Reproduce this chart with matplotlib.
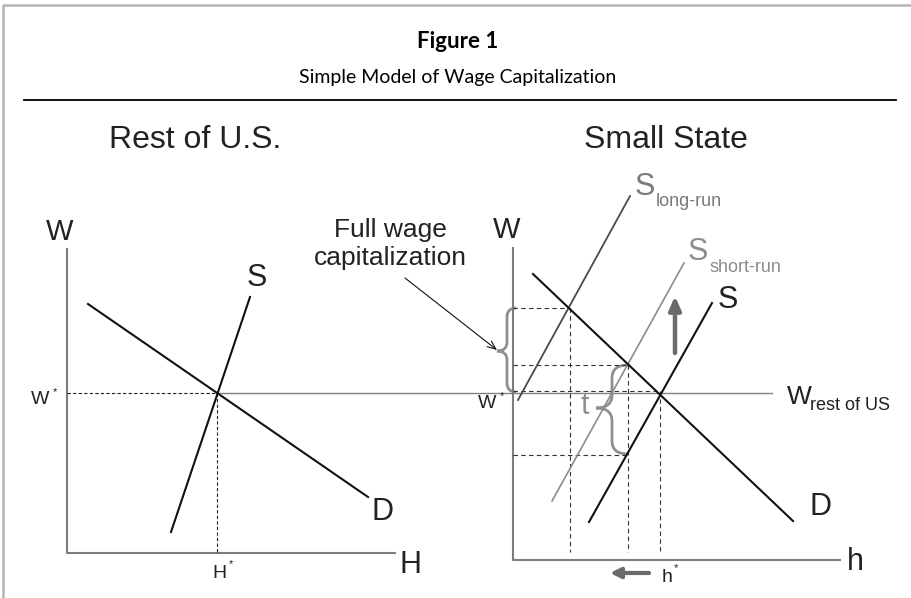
import numpy as np
import matplotlib.pyplot as plt
from matplotlib.path import Path
from matplotlib.patches import PathPatch

# everything is laid out in pixel units of the 911x598 picture (y down)
W_PX, H_PX = 911, 598

# ---- left panel: Rest of U.S.
left_axis_x = [67, 67, 395]
left_axis_y = [249, 553, 553]
left_S_x, left_S_y = [171, 250], [532, 297]
left_D_x, left_D_y = [88, 368], [304, 497]
left_eq = (217, 393)

# ---- right panel: Small State
right_axis_x = [513, 513, 840]
right_axis_y = [248, 560, 560]
right_D_x, right_D_y = [533, 793], [274, 521]
right_S_x, right_S_y = [589, 712], [522, 303]
short_S_x, short_S_y = [552, 684], [501, 263]
long_S_x, long_S_y = [518, 630], [400, 196]
w_rest_x, w_rest_y = [217, 772], 393

# equilibrium points (x, y)
eq_long = (570, 308)
eq_short = (628, 365)
eq_base = (660, 391)
eq_supply = (628, 455)
guide_bottom = 552

fig = plt.figure(figsize=(9.11, 5.98), dpi=100)
ax = fig.add_axes([0, 0, 1, 1])
ax.set_xlim(0, W_PX)
ax.set_ylim(H_PX, 0)
ax.axis('off')

# frame and header
ax.plot([3, 3, 911], [598, 5, 5], color='#b5b5b5', lw=1.8, solid_capstyle='butt')
ax.plot([24, 896], [100, 100], color='black', lw=1.3)
ax.text(458, 42, "Figure 1", ha='center', va='center', fontsize=16,
        fontweight='bold', family='Lato')
ax.text(458, 78, "Simple Model of Wage Capitalization", ha='center', va='center',
        fontsize=14, family='Lato')

lab = dict(family='Liberation Sans', color='#222222')
ax.text(195, 140, "Rest of U.S.", ha='center', va='center', fontsize=23, **lab)
ax.text(666, 140, "Small State", ha='center', va='center', fontsize=23, **lab)

axis_col = '#7d7d7d'
dash_kw = dict(color='#333333', lw=0.8, ls=(0, (4, 3)))

# ---- left panel
ax.plot(left_axis_x, left_axis_y, color=axis_col, lw=1.5)
ax.plot(w_rest_x, [w_rest_y, w_rest_y], color='#808080', lw=1.0)
ax.plot([left_axis_x[0], left_eq[0]], [left_eq[1], left_eq[1]], color='#222222', lw=0.8,
        ls=(0, (3, 2)))
ax.plot([left_eq[0], left_eq[0]], [left_eq[1], left_axis_y[1]], color='#222222', lw=0.8,
        ls=(0, (3, 2)))
ax.plot(left_S_x, left_S_y, color='#111111', lw=1.5)
ax.plot(left_D_x, left_D_y, color='#111111', lw=1.5)

ax.text(60, 232, "W", ha='center', va='center', fontsize=21, **lab)
ax.text(257, 278, "S", ha='center', va='center', fontsize=22, **lab)
ax.text(383, 512, "D", ha='center', va='center', fontsize=22, **lab)
ax.text(410, 565, "H", ha='center', va='center', fontsize=22, **lab)
ax.text(40, 399, "W", ha='center', va='center', fontsize=14, **lab)
ax.text(55, 392, "*", ha='center', va='center', fontsize=8, **lab)
ax.text(219, 573, "H", ha='center', va='center', fontsize=14, **lab)
ax.text(231, 564, "*", ha='center', va='center', fontsize=8, **lab)

# ---- right panel
ax.plot(right_axis_x, right_axis_y, color=axis_col, lw=1.5)
for px, py in [eq_long, eq_short, eq_base, eq_supply]:
    ax.plot([right_axis_x[0], px], [py, py], **dash_kw)
for px, py in [eq_long, eq_short, eq_base]:
    ax.plot([px, px], [py, guide_bottom], **dash_kw)

ax.plot(long_S_x, long_S_y, color='#4a4a4a', lw=1.3)
ax.plot(short_S_x, short_S_y, color='#8c8c8c', lw=1.2)
ax.plot(right_D_x, right_D_y, color='#111111', lw=1.5)
ax.plot(right_S_x, right_S_y, color='#111111', lw=1.5)


def brace(x_end, y0, y1, xs, tip_x, tip_y, r):
    verts = [(x_end, y0), (xs, y0), (xs, y0 + r),
             (xs, tip_y - r), (xs, tip_y), (tip_x, tip_y),
             (xs, tip_y), (xs, tip_y + r),
             (xs, y1 - r), (xs, y1), (x_end, y1)]
    codes = [Path.MOVETO, Path.CURVE3, Path.CURVE3,
             Path.LINETO, Path.CURVE3, Path.CURVE3,
             Path.CURVE3, Path.CURVE3,
             Path.LINETO, Path.CURVE3, Path.CURVE3]
    ax.add_patch(PathPatch(Path(verts, codes), fill=False, ec='#8f8f8f', lw=2.0))


brace(516, 308, 392, 507, 497, 351, 9)
brace(628, 365, 454, 612, 596, 408, 13)

ax.annotate("", xy=(675, 296), xytext=(675, 353),
            arrowprops=dict(arrowstyle='-|>,head_width=0.35,head_length=0.8',
                            lw=3.2, color='#6a6a6a', shrinkA=0, shrinkB=0))
ax.annotate("", xy=(610, 573), xytext=(649, 573),
            arrowprops=dict(arrowstyle='-|>,head_width=0.3,head_length=0.6',
                            lw=3.0, color='#6a6a6a', shrinkA=0, shrinkB=0))
ax.annotate("", xy=(497, 350), xytext=(405, 278),
            arrowprops=dict(arrowstyle='->,head_width=0.25,head_length=0.6',
                            lw=0.8, color='#111111', shrinkA=0, shrinkB=0))

ax.text(390, 244, "Full wage\ncapitalization", ha='center', va='center',
        fontsize=19, linespacing=1.2, **lab)
ax.text(507, 230, "W", ha='center', va='center', fontsize=21, **lab)
ax.text(855, 562, "h", ha='center', va='center', fontsize=22, **lab)
ax.text(820, 507, "D", ha='center', va='center', fontsize=22, **lab)
ax.text(728, 300, "S", ha='center', va='center', fontsize=22, **lab)
ax.text(487, 404, "W", ha='center', va='center', fontsize=14, **lab)
ax.text(502, 396, "*", ha='center', va='center', fontsize=8, **lab)
ax.text(667, 578, "h", ha='center', va='center', fontsize=14, **lab)
ax.text(676, 568, "*", ha='center', va='center', fontsize=8, **lab)
ax.text(585, 406, "t", ha='center', va='center', fontsize=22,
        family='Liberation Sans', color='#8f8f8f')

ax.text(787, 397, "W", ha='left', va='center', fontsize=19, **lab)
ax.text(810, 406, "rest of US", ha='left', va='center', fontsize=13, **lab)
ax.text(635, 187, "S", ha='left', va='center', fontsize=22,
        family='Liberation Sans', color='#7a7a7a')
ax.text(656, 202, "long-run", ha='left', va='center', fontsize=13,
        family='Liberation Sans', color='#7a7a7a')
ax.text(688, 252, "S", ha='left', va='center', fontsize=22,
        family='Liberation Sans', color='#8c8c8c')
ax.text(709, 267, "short-run", ha='left', va='center', fontsize=13,
        family='Liberation Sans', color='#8c8c8c')

fig.savefig("out.png", dpi=100)
